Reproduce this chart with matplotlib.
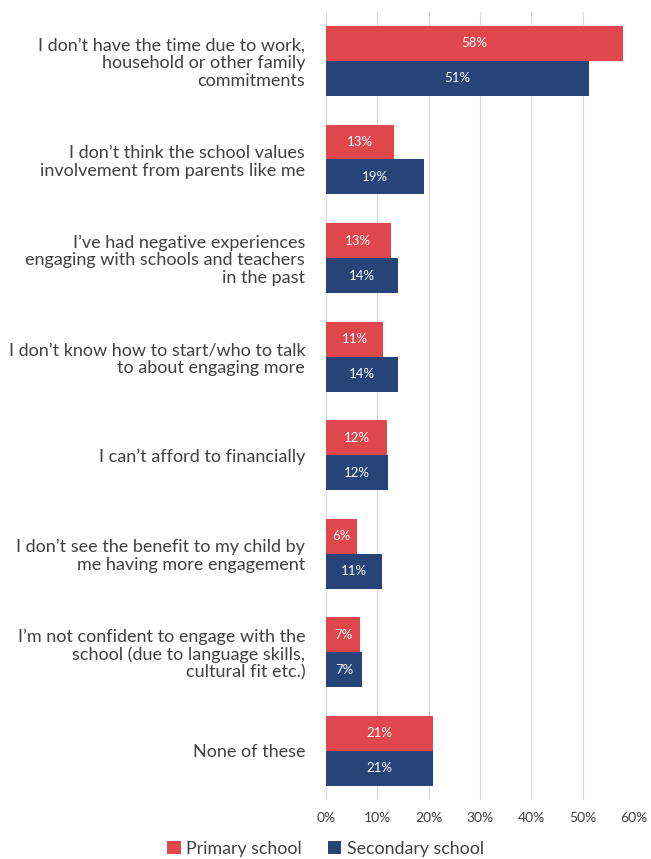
import matplotlib.pyplot as plt
import numpy as np

categories = [
    "I don\u2019t have the time due to work,\nhousehold or other family\ncommitments",
    "I don\u2019t think the school values\ninvolvement from parents like me",
    "I\u2019ve had negative experiences\nengaging with schools and teachers\nin the past",
    "I don\u2019t know how to start/who to talk\nto about engaging more",
    "I can\u2019t afford to financially",
    "I don\u2019t see the benefit to my child by\nme having more engagement",
    "I\u2019m not confident to engage with the\nschool (due to language skills,\ncultural fit etc.)",
    "None of these",
]
primary = [57.9, 13.3, 12.6, 11.1, 11.9, 6.1, 6.7, 20.9]
secondary = [51.2, 19.1, 14.0, 14.0, 12.0, 10.9, 7.0, 20.9]
primary_labels = ["58%", "13%", "13%", "11%", "12%", "6%", "7%", "21%"]
secondary_labels = ["51%", "19%", "14%", "14%", "12%", "11%", "7%", "21%"]
xticks = [0, 10, 20, 30, 40, 50, 60]

red = "#E0474C"
blue = "#264478"
text_col = "#404040"

plt.rcParams['font.family'] = ['Lato', 'DejaVu Sans']

fig = plt.figure(figsize=(6.51, 8.59), dpi=100)
ax = fig.add_axes([0.5008, 0.0687, 0.4731, 0.9177])

y = np.arange(len(categories))
h = 0.355
b1 = ax.barh(y - h / 2, primary, height=h, color=red, label="Primary school", zorder=3)
b2 = ax.barh(y + h / 2, secondary, height=h, color=blue, label="Secondary school", zorder=3)
ax.bar_label(b1, labels=primary_labels, label_type='center', color='white', fontsize=9.5)
ax.bar_label(b2, labels=secondary_labels, label_type='center', color='white', fontsize=9.5)

ax.set_ylim(len(categories) - 0.5, -0.5)
ax.set_xlim(0, 60)
ax.set_xticks(xticks)
ax.set_xticklabels([f"{t}%" for t in xticks], fontsize=10, color=text_col)
ax.set_yticks(y)
ax.set_yticklabels(categories, fontsize=13, color=text_col, ha='right', linespacing=1.12)
ax.tick_params(axis='y', length=0, pad=15)
ax.tick_params(axis='x', length=0, pad=9)
ax.xaxis.grid(True, color="#d9d9d9", linewidth=0.8, zorder=0)
for s in ax.spines.values():
    s.set_visible(False)

fig.legend(handles=[b1, b2], loc='lower center', bbox_to_anchor=(0.5, -0.016), ncol=2,
           frameon=False, fontsize=12.8, handlelength=0.75, handleheight=0.75,
           handletextpad=0.3, columnspacing=1.5, labelcolor=text_col)

plt.savefig('out.png', dpi=100)
